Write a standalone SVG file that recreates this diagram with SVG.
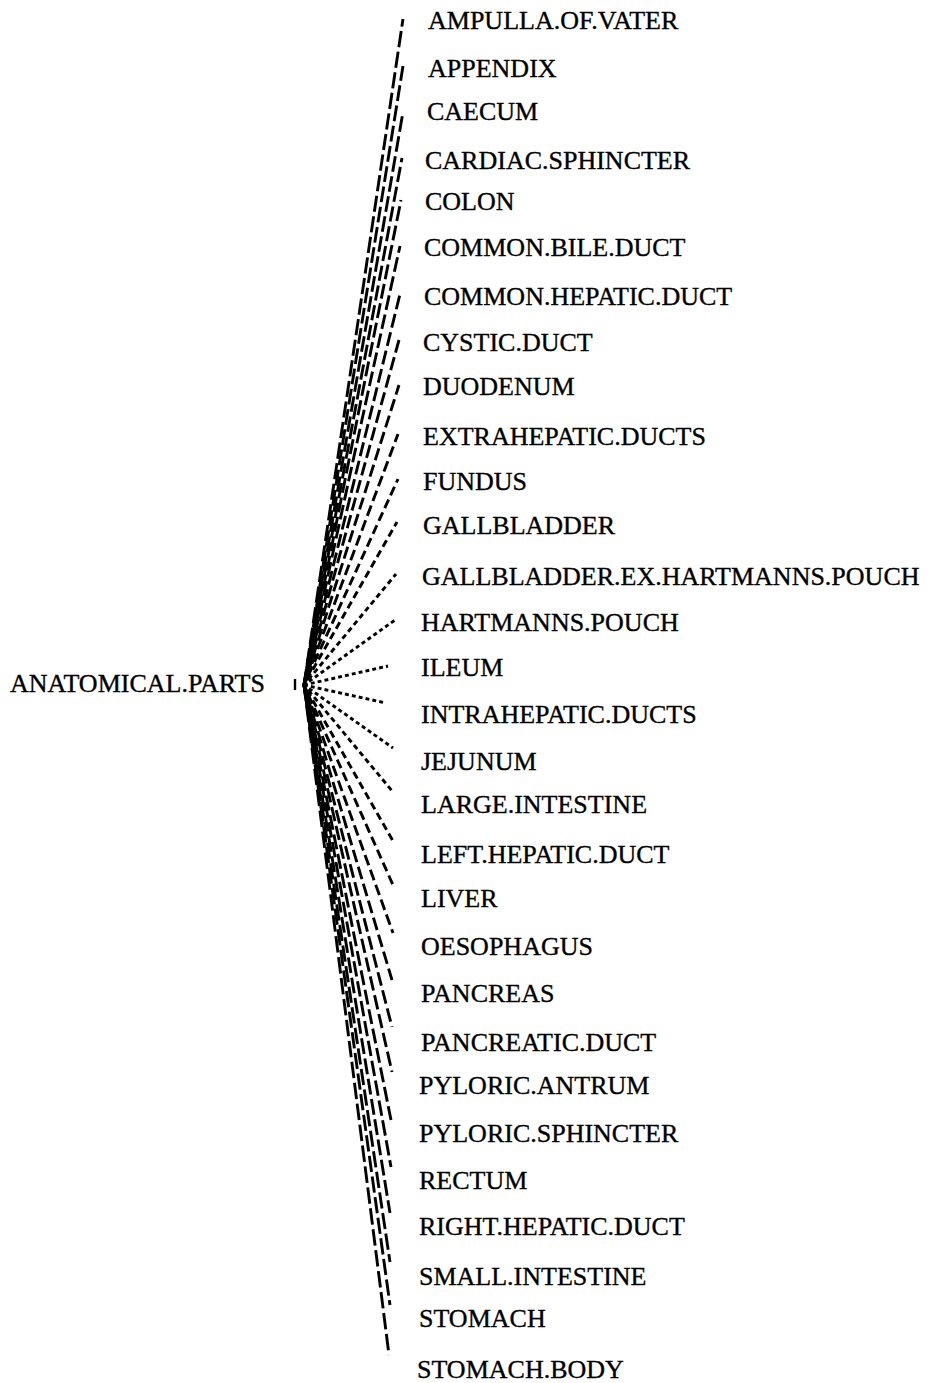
<svg xmlns="http://www.w3.org/2000/svg" width="933" height="1383" viewBox="0 0 933 1383">
<style>
text{font-family:"Liberation Serif","Times New Roman",serif;font-size:26px;fill:#000;stroke:#000;stroke-width:0.35}
.c line{stroke:#000;stroke-width:2.9;fill:none}
</style>
<rect width="933" height="1383" fill="#fff"/>
<g id="connectors" class="c">
<line x1="295" y1="679" x2="295" y2="690" style="stroke-width:2.4"/>
<line x1="304" y1="685" x2="403" y2="19" stroke-dasharray="16.3 4.5"/>
<line x1="304" y1="685" x2="403" y2="66" stroke-dasharray="15.9 4.6" stroke-dashoffset="3"/>
<line x1="304" y1="685" x2="403" y2="112" stroke-dasharray="15.7 4.6" stroke-dashoffset="7"/>
<line x1="304" y1="685" x2="402" y2="158" stroke-dasharray="15.4 4.7" stroke-dashoffset="11"/>
<line x1="304" y1="685" x2="401" y2="200" stroke-dasharray="15.1 4.7" stroke-dashoffset="2"/>
<line x1="304" y1="685" x2="400" y2="246" stroke-dasharray="14.8 4.7" stroke-dashoffset="6"/>
<line x1="304" y1="685" x2="400" y2="294" stroke-dasharray="14.1 4.8" stroke-dashoffset="10"/>
<line x1="304" y1="685" x2="399" y2="340" stroke-dasharray="13.4 4.8" stroke-dashoffset="1"/>
<line x1="304" y1="685" x2="399" y2="385" stroke-dasharray="12.4 4.8" stroke-dashoffset="5"/>
<line x1="304" y1="685" x2="398" y2="434" stroke-dasharray="11 4.8" stroke-dashoffset="9"/>
<line x1="304" y1="685" x2="398" y2="479" stroke-dasharray="9.4 4.7" stroke-dashoffset="3"/>
<line x1="304" y1="685" x2="397" y2="522" stroke-dasharray="7.4 4.4" stroke-dashoffset="6"/>
<line x1="304" y1="685" x2="396" y2="574" stroke-dasharray="5.2 3.7" stroke-dashoffset="2"/>
<line x1="304" y1="685" x2="395" y2="620" stroke-dasharray="4 3.2" stroke-dashoffset="1"/>
<line x1="304" y1="685" x2="388" y2="666" stroke-dasharray="3.9 3.1"/>
<line x1="304" y1="685" x2="386" y2="703" stroke-dasharray="3.9 3.1"/>
<line x1="304" y1="685" x2="393" y2="748" stroke-dasharray="4 3.2" stroke-dashoffset="1"/>
<line x1="304" y1="685" x2="393" y2="792" stroke-dasharray="5.2 3.7" stroke-dashoffset="2"/>
<line x1="304" y1="685" x2="393" y2="841" stroke-dasharray="7.4 4.4" stroke-dashoffset="6"/>
<line x1="304" y1="685" x2="393" y2="885" stroke-dasharray="9.4 4.7" stroke-dashoffset="3"/>
<line x1="304" y1="685" x2="393" y2="933" stroke-dasharray="11 4.8" stroke-dashoffset="9"/>
<line x1="304" y1="685" x2="392" y2="980" stroke-dasharray="12.9 4.8" stroke-dashoffset="5"/>
<line x1="304" y1="685" x2="392" y2="1027" stroke-dasharray="13.8 4.8" stroke-dashoffset="1"/>
<line x1="304" y1="685" x2="392" y2="1072" stroke-dasharray="14.5 4.8" stroke-dashoffset="10"/>
<line x1="304" y1="685" x2="391" y2="1120" stroke-dasharray="15.1 4.7" stroke-dashoffset="6"/>
<line x1="304" y1="685" x2="391" y2="1167" stroke-dasharray="15.5 4.7" stroke-dashoffset="2"/>
<line x1="304" y1="685" x2="390" y2="1213" stroke-dasharray="15.9 4.6" stroke-dashoffset="11"/>
<line x1="304" y1="685" x2="390" y2="1262" stroke-dasharray="16.3 4.5" stroke-dashoffset="7"/>
<line x1="304" y1="685" x2="390" y2="1305" stroke-dasharray="16.3 4.5" stroke-dashoffset="3"/>
<line x1="304" y1="685" x2="389" y2="1355" stroke-dasharray="16.5 4.6"/>
</g>
<g id="root"><text x="10" y="692">ANATOMICAL.PARTS</text></g>
<g id="n0"><text x="428" y="29">AMPULLA.OF.VATER</text></g>
<g id="n1"><text x="428" y="77">APPENDIX</text></g>
<g id="n2"><text x="427" y="120">CAECUM</text></g>
<g id="n3"><text x="425" y="169">CARDIAC.SPHINCTER</text></g>
<g id="n4"><text x="425" y="210">COLON</text></g>
<g id="n5"><text x="424" y="256">COMMON.BILE.DUCT</text></g>
<g id="n6"><text x="424" y="305">COMMON.HEPATIC.DUCT</text></g>
<g id="n7"><text x="423" y="351">CYSTIC.DUCT</text></g>
<g id="n8"><text x="423" y="395">DUODENUM</text></g>
<g id="n9"><text x="423" y="445">EXTRAHEPATIC.DUCTS</text></g>
<g id="n10"><text x="423" y="490">FUNDUS</text></g>
<g id="n11"><text x="423" y="534">GALLBLADDER</text></g>
<g id="n12"><text x="422" y="585">GALLBLADDER.EX.HARTMANNS.POUCH</text></g>
<g id="n13"><text x="421" y="631">HARTMANNS.POUCH</text></g>
<g id="n14"><text x="421" y="676">ILEUM</text></g>
<g id="n15"><text x="421" y="723">INTRAHEPATIC.DUCTS</text></g>
<g id="n16"><text x="421" y="770">JEJUNUM</text></g>
<g id="n17"><text x="421" y="813">LARGE.INTESTINE</text></g>
<g id="n18"><text x="421" y="863">LEFT.HEPATIC.DUCT</text></g>
<g id="n19"><text x="421" y="907">LIVER</text></g>
<g id="n20"><text x="421" y="955">OESOPHAGUS</text></g>
<g id="n21"><text x="421" y="1002">PANCREAS</text></g>
<g id="n22"><text x="421" y="1051">PANCREATIC.DUCT</text></g>
<g id="n23"><text x="419" y="1094">PYLORIC.ANTRUM</text></g>
<g id="n24"><text x="419" y="1142">PYLORIC.SPHINCTER</text></g>
<g id="n25"><text x="419" y="1189">RECTUM</text></g>
<g id="n26"><text x="419" y="1235">RIGHT.HEPATIC.DUCT</text></g>
<g id="n27"><text x="419" y="1285">SMALL.INTESTINE</text></g>
<g id="n28"><text x="419" y="1327">STOMACH</text></g>
<g id="n29"><text x="417" y="1378">STOMACH.BODY</text></g>
</svg>
